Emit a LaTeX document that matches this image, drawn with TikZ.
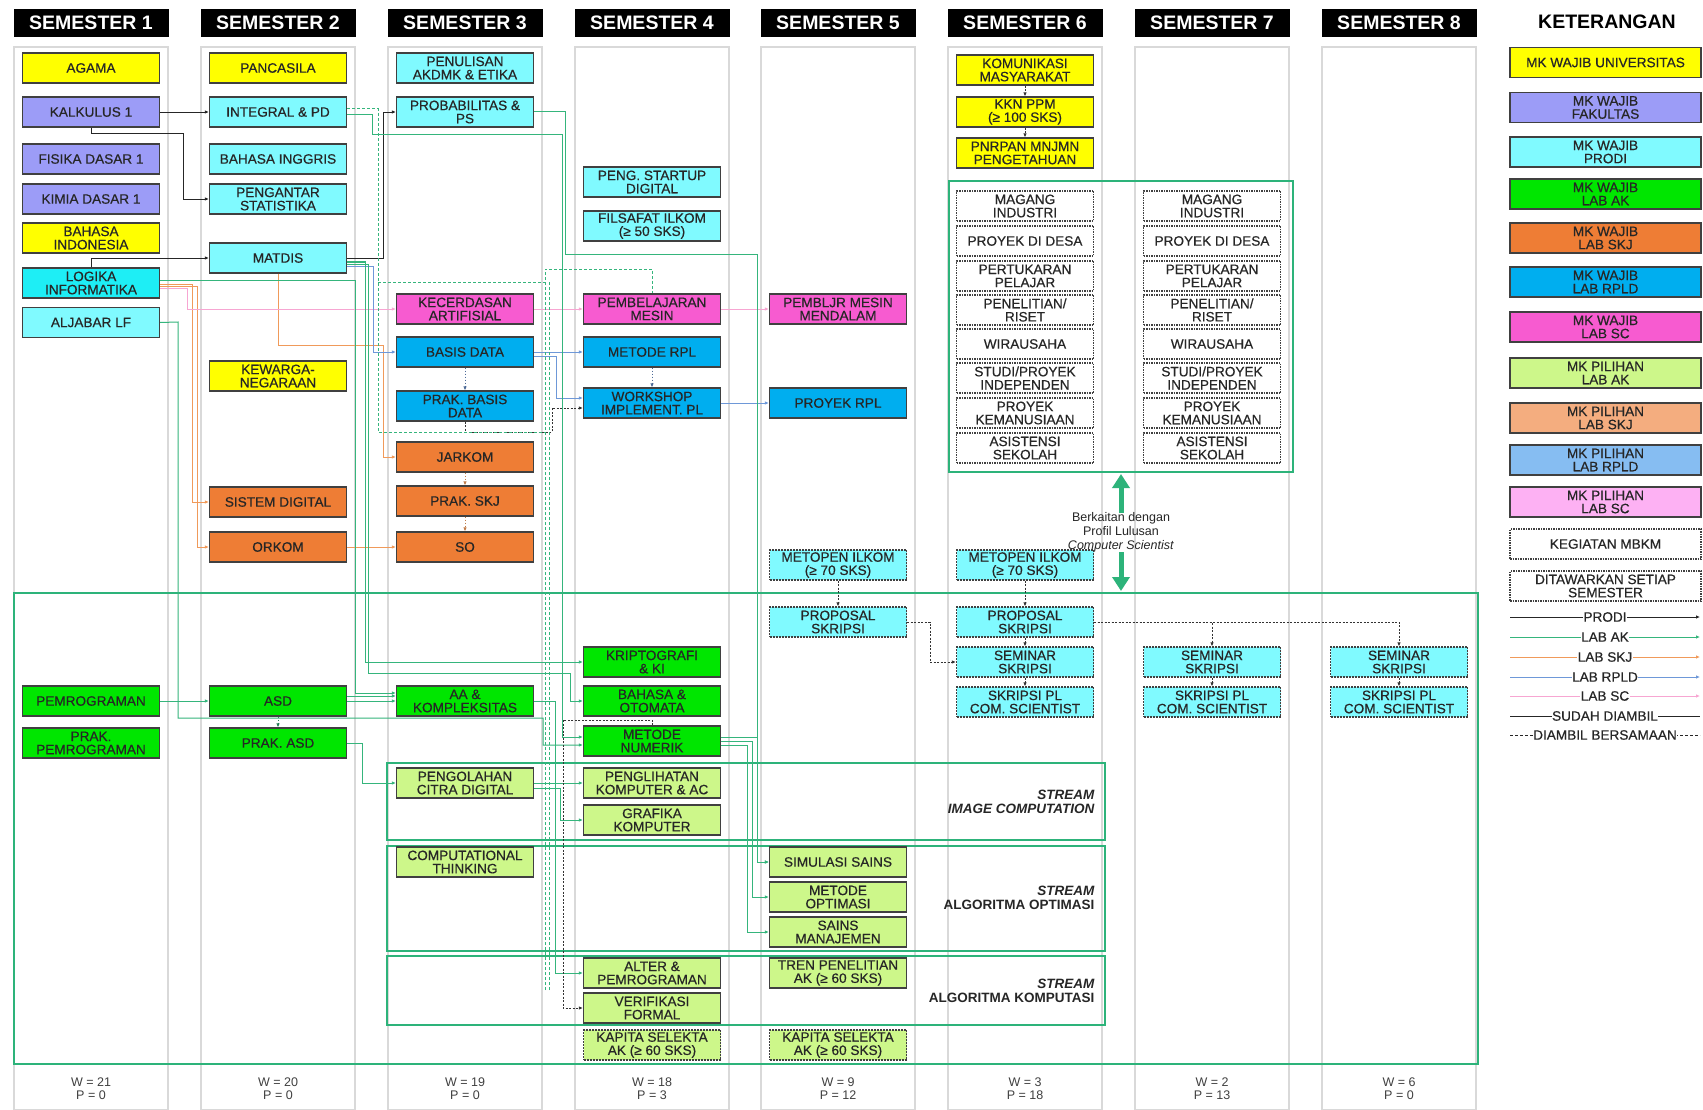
\documentclass[tikz,border=0pt]{standalone}
\usepackage{fontspec}
\setmainfont{Liberation Sans}
\newfontfamily\bxf[FakeBold=0.5]{Liberation Sans}
\usetikzlibrary{arrows.meta}
\definecolor{cYel}{HTML}{FFFF00}
\definecolor{cFak}{HTML}{9C9CF7}
\definecolor{cPro}{HTML}{80FAFF}
\definecolor{cLog}{HTML}{1EEEF5}
\definecolor{cAK}{HTML}{00E600}
\definecolor{cSKJ}{HTML}{EE7D35}
\definecolor{cRPL}{HTML}{00AEEF}
\definecolor{cSC}{HTML}{F75BD0}
\definecolor{cpAK}{HTML}{CDF78A}
\definecolor{cpSKJ}{HTML}{F4AD7F}
\definecolor{cpRPL}{HTML}{86BDF2}
\definecolor{cpSC}{HTML}{FDB1F3}
\definecolor{lAK}{HTML}{35B57C}
\definecolor{lSKJ}{HTML}{F09A5A}
\definecolor{lRPL}{HTML}{6E98D8}
\definecolor{lSC}{HTML}{F7A6D2}
\definecolor{frameG}{HTML}{2DB37A}
\definecolor{colG}{HTML}{D9D9D9}
\begin{document}
\begin{tikzpicture}[x=1pt,y=-1pt,
  box/.style={draw=black!75, line width=1.2pt, minimum width=137pt, minimum height=30pt, inner sep=0pt, align=center, font=\bxf\fontsize{13.6}{13.2}\selectfont, text=black!85},
  yel/.style={box, fill=cYel},
  fak/.style={box, fill=cFak},
  pro/.style={box, fill=cPro},
  lak/.style={box, fill=cAK},
  lskj/.style={box, fill=cSKJ},
  lrpl/.style={box, fill=cRPL},
  lsc/.style={box, fill=cSC},
  pak/.style={box, fill=cpAK},
  pskj/.style={box, fill=cpSKJ},
  prpl/.style={box, fill=cpRPL},
  psc/.style={box, fill=cpSC},
  mbkm/.style={box, fill=white, dash pattern=on 1.5pt off 1pt},
  dpro/.style={box, fill=cPro, dash pattern=on 2pt off 1pt},
  dpak/.style={box, fill=cpAK, dash pattern=on 2pt off 1pt},
  lgd/.style={box, minimum width=191pt},
  hdr/.style={fill=black, text=white, minimum width=155pt, minimum height=28pt, inner sep=0pt, font=\fontsize{19.5}{19.5}\selectfont\bfseries},
  colbg/.style={draw=colG, line width=1.6pt, fill=white},
  tip/.style={-{Latex[length=4pt,width=3.5pt]}},
  pr/.style={draw=black!85, line width=0.9pt, tip},
  ak/.style={draw=lAK, line width=1pt, tip},
  skj/.style={draw=lSKJ, line width=1pt, tip},
  rp/.style={draw=lRPL, line width=1pt, tip},
  sc/.style={draw=lSC, line width=1pt, tip},
  bers/.style={draw=black!80, line width=0.9pt, dash pattern=on 2pt off 1.5pt, tip},
  skjd/.style={draw=lSKJ!80!black, line width=0.9pt, dash pattern=on 1.5pt off 1.5pt, tip},
  rpd/.style={draw=lRPL!70!black, line width=0.9pt, dash pattern=on 1.5pt off 1.5pt, tip},
  akd/.style={draw=lAK!70!black, line width=0.9pt, dash pattern=on 1.5pt off 1.5pt, tip},
  akg/.style={draw=lAK, line width=1pt, dash pattern=on 3pt off 2pt},
  frm/.style={draw=frameG, line width=2.4pt},
  sfrm/.style={draw=frameG, line width=2pt},
  lglbl/.style={fill=white, inner sep=0.5pt, font=\bxf\fontsize{13.6}{13}\selectfont, text=black!85},
  wp/.style={align=center, font=\fontsize{12.5}{13}\selectfont, text=black!75},
  strm/.style={anchor=east, align=right, font=\fontsize{13.5}{14}\selectfont\bfseries, text=black!85}
]
\useasboundingbox (0,0) rectangle (1703,1110);
\fill[white] (0,0) rectangle (1703,1110);
% columns
\foreach \c in {91,278,465,652,838,1025,1212,1399} {
  \draw[colbg] (\c-77,47) rectangle (\c+77,1110);
}
\foreach \c/\n in {91/1,278/2,465/3,652/4,838/5,1025/6,1212/7,1399/8} {
  \node[hdr] (h\n) at (\c,23) {SEMESTER \n};
}
\node[font=\fontsize{19.5}{19.5}\selectfont\bfseries] (ket) at (1607,22) {KETERANGAN};

% frames
\draw[frm] (949,181) rectangle (1293,472);
\draw[frm] (14,593) rectangle (1478,1064);
\draw[sfrm] (387,763) rectangle (1105,840);
\draw[sfrm] (387,846) rectangle (1105,951);
\draw[sfrm] (387,956) rectangle (1105,1025);

% semester 1
\node[yel] (agama) at (91,68) {AGAMA};
\node[fak] (k1) at (91,112) {KALKULUS 1};
\node[fak] (fis) at (91,159) {FISIKA DASAR 1};
\node[fak] (kim) at (91,199) {KIMIA DASAR 1};
\node[yel] (bind) at (91,238) {BAHASA\\INDONESIA};
\node[box, fill=cLog] (logika) at (91,283) {LOGIKA\\INFORMATIKA};
\node[pro] (alj) at (91,322.5) {ALJABAR LF};
\node[lak] (pemro) at (91,701) {PEMROGRAMAN};
\node[lak] (prakpemro) at (91,743) {PRAK.\\PEMROGRAMAN};
% semester 2
\node[yel] (panc) at (278,68) {PANCASILA};
\node[pro] (int) at (278,112) {INTEGRAL \& PD};
\node[pro] (bing) at (278,159) {BAHASA INGGRIS};
\node[pro] (stat) at (278,199) {PENGANTAR\\STATISTIKA};
\node[pro] (matdis) at (278,258) {MATDIS};
\node[yel] (kew) at (278,376) {KEWARGA-\\NEGARAAN};
\node[lskj] (sisdig) at (278,502) {SISTEM DIGITAL};
\node[lskj] (orkom) at (278,547) {ORKOM};
\node[lak] (asd) at (278,701) {ASD};
\node[lak] (prakasd) at (278,743) {PRAK. ASD};
% semester 3
\node[pro] (penulisan) at (465,68) {PENULISAN\\AKDMK \& ETIKA};
\node[pro] (prob) at (465,112) {PROBABILITAS \&\\PS};
\node[lsc] (ka) at (465,309) {KECERDASAN\\ARTIFISIAL};
\node[lrpl] (bd) at (465,352) {BASIS DATA};
\node[lrpl] (pbd) at (465,406) {PRAK. BASIS\\DATA};
\node[lskj] (jarkom) at (465,457) {JARKOM};
\node[lskj] (prakskj) at (465,501) {PRAK. SKJ};
\node[lskj] (so) at (465,547) {SO};
\node[lak] (aak) at (465,701) {AA \&\\KOMPLEKSITAS};
\node[pak] (pcd) at (465,783) {PENGOLAHAN\\CITRA DIGITAL};
\node[pak] (ct) at (465,862) {COMPUTATIONAL\\THINKING};
% semester 4
\node[pro] (startup) at (652,182) {PENG. STARTUP\\DIGITAL};
\node[pro] (filsafat) at (652,226) {FILSAFAT ILKOM\\(≥ 50 SKS)};
\node[lsc] (pm) at (652,309) {PEMBELAJARAN\\MESIN};
\node[lrpl] (mrpl) at (652,352) {METODE RPL};
\node[lrpl] (ws) at (652,403) {WORKSHOP\\IMPLEMENT. PL};
\node[lak] (kripto) at (652,662) {KRIPTOGRAFI\\\& KI};
\node[lak] (bo) at (652,701) {BAHASA \&\\OTOMATA};
\node[lak] (mnum) at (652,741) {METODE\\NUMERIK};
\node[pak] (pk) at (652,783) {PENGLIHATAN\\KOMPUTER \& AC};
\node[pak] (graf) at (652,820) {GRAFIKA\\KOMPUTER};
\node[pak] (alter) at (652,973) {ALTER \&\\PEMROGRAMAN};
\node[pak] (verif) at (652,1008) {VERIFIKASI\\FORMAL};
\node[dpak] (kap4) at (652,1045) {KAPITA SELEKTA\\AK (≥ 60 SKS)};
% semester 5
\node[lsc] (pmm) at (838,309) {PEMBLJR MESIN\\MENDALAM};
\node[lrpl] (prpl) at (838,403) {PROYEK RPL};
\node[dpro] (metopen5) at (838,565) {METOPEN ILKOM\\(≥ 70 SKS)};
\node[dpro] (prop5) at (838,622) {PROPOSAL\\SKRIPSI};
\node[pak] (sim) at (838,862) {SIMULASI SAINS};
\node[pak] (opt) at (838,897) {METODE\\OPTIMASI};
\node[pak] (man) at (838,932) {SAINS\\MANAJEMEN};
\node[pak] (tren) at (838,973) {TREN PENELITIAN\\AK (≥ 60 SKS)};
\node[dpak] (kap5) at (838,1045) {KAPITA SELEKTA\\AK (≥ 60 SKS)};
% semester 6
\node[yel] (kom) at (1025,70) {KOMUNIKASI\\MASYARAKAT};
\node[yel] (kkn) at (1025,112) {KKN PPM\\(≥ 100 SKS)};
\node[yel] (pnr) at (1025,153) {PNRPAN MNJMN\\PENGETAHUAN};
\foreach \c/\s in {1025/a,1212/b} {
  \node[mbkm] (mag\s) at (\c,206) {MAGANG\\INDUSTRI};
  \node[mbkm] (desa\s) at (\c,241) {PROYEK DI DESA};
  \node[mbkm] (tukar\s) at (\c,276) {PERTUKARAN\\PELAJAR};
  \node[mbkm] (riset\s) at (\c,310) {PENELITIAN/\\RISET};
  \node[mbkm] (wira\s) at (\c,344) {WIRAUSAHA};
  \node[mbkm] (studi\s) at (\c,378) {STUDI/PROYEK\\INDEPENDEN};
  \node[mbkm] (kemanu\s) at (\c,413) {PROYEK\\KEMANUSIAAN};
  \node[mbkm] (asist\s) at (\c,448) {ASISTENSI\\SEKOLAH};
}
\node[dpro] (metopen6) at (1025,565) {METOPEN ILKOM\\(≥ 70 SKS)};
\node[dpro] (prop6) at (1025,622) {PROPOSAL\\SKRIPSI};
\node[dpro] (sem6) at (1025,662) {SEMINAR\\SKRIPSI};
\node[dpro] (skr6) at (1025,702) {SKRIPSI PL\\COM. SCIENTIST};
% semester 7, 8
\node[dpro] (sem7) at (1212,662) {SEMINAR\\SKRIPSI};
\node[dpro] (skr7) at (1212,702) {SKRIPSI PL\\COM. SCIENTIST};
\node[dpro] (sem8) at (1399,662) {SEMINAR\\SKRIPSI};
\node[dpro] (skr8) at (1399,702) {SKRIPSI PL\\COM. SCIENTIST};

% stream labels
\node[strm] (s1) at (1098,802) {\itshape STREAM\\\itshape IMAGE COMPUTATION};
\node[strm] (s2) at (1098,898) {\itshape STREAM\\ALGORITMA OPTIMASI};
\node[strm] (s3) at (1098,991) {\itshape STREAM\\ALGORITMA KOMPUTASI};

% profile arrow
\coordinate (pa1) at (1121,513);
\coordinate (pa2) at (1121,474);
\coordinate (pa3) at (1121,552);
\coordinate (pa4) at (1121,591);
\draw[draw=frameG, line width=5pt, -{Triangle[width=17pt,length=14pt]}] (pa1) -- (pa2);
\draw[draw=frameG, line width=5pt, -{Triangle[width=17pt,length=14pt]}] (pa3) -- (pa4);
\node[align=center, font=\fontsize{12.5}{14}\selectfont, text=black!85] (prof) at (1121,532) {Berkaitan dengan\\Profil Lulusan\\\textit{Computer Scientist}};

% W / P
\node[wp] (wp1) at (91,1089) {W = 21\\P = 0};
\node[wp] (wp2) at (278,1089) {W = 20\\P = 0};
\node[wp] (wp3) at (465,1089) {W = 19\\P = 0};
\node[wp] (wp4) at (652,1089) {W = 18\\P = 3};
\node[wp] (wp5) at (838,1089) {W = 9\\P = 12};
\node[wp] (wp6) at (1025,1089) {W = 3\\P = 18};
\node[wp] (wp7) at (1212,1089) {W = 2\\P = 13};
\node[wp] (wp8) at (1399,1089) {W = 6\\P = 0};

% legend
\node[lgd, fill=cYel] (g1) at (1605.5,62.5) {MK WAJIB UNIVERSITAS};
\node[lgd, fill=cFak] (g2) at (1605.5,107.5) {MK WAJIB\\FAKULTAS};
\node[lgd, fill=cPro] (g3) at (1605.5,152) {MK WAJIB\\PRODI};
\node[lgd, fill=cAK] (g4) at (1605.5,194) {MK WAJIB\\LAB AK};
\node[lgd, fill=cSKJ] (g5) at (1605.5,238) {MK WAJIB\\LAB SKJ};
\node[lgd, fill=cRPL] (g6) at (1605.5,282) {MK WAJIB\\LAB RPLD};
\node[lgd, fill=cSC] (g7) at (1605.5,327) {MK WAJIB\\LAB SC};
\node[lgd, fill=cpAK] (g8) at (1605.5,373) {MK PILIHAN\\LAB AK};
\node[lgd, fill=cpSKJ] (g9) at (1605.5,418) {MK PILIHAN\\LAB SKJ};
\node[lgd, fill=cpRPL] (g10) at (1605.5,460) {MK PILIHAN\\LAB RPLD};
\node[lgd, fill=cpSC] (g11) at (1605.5,502) {MK PILIHAN\\LAB SC};
\node[lgd, fill=white, dash pattern=on 1.5pt off 1pt] (g12) at (1605.5,544) {KEGIATAN MBKM};
\node[lgd, fill=white, dash pattern=on 1.5pt off 1pt] (g13) at (1605.5,586) {DITAWARKAN SETIAP\\SEMESTER};
\coordinate (la1) at (1510,617); \coordinate (lb1) at (1700,617);
\coordinate (la2) at (1510,637); \coordinate (lb2) at (1700,637);
\coordinate (la3) at (1510,657); \coordinate (lb3) at (1700,657);
\coordinate (la4) at (1510,677); \coordinate (lb4) at (1700,677);
\coordinate (la5) at (1510,696); \coordinate (lb5) at (1700,696);
\coordinate (la6) at (1510,716); \coordinate (lb6) at (1700,716);
\coordinate (la7) at (1510,735); \coordinate (lb7) at (1700,735);
\draw[pr] (la1) -- (lb1) node[lglbl, midway] (t1) {PRODI};
\draw[ak] (la2) -- (lb2) node[lglbl, midway] (t2) {LAB AK};
\draw[skj] (la3) -- (lb3) node[lglbl, midway] (t3) {LAB SKJ};
\draw[rp] (la4) -- (lb4) node[lglbl, midway] (t4) {LAB RPLD};
\draw[sc] (la5) -- (lb5) node[lglbl, midway] (t5) {LAB SC};
\draw[draw=black!85, line width=0.9pt] (la6) -- (lb6) node[lglbl, midway] (t6) {SUDAH DIAMBIL};
\draw[draw=black!85, line width=0.9pt, dash pattern=on 3pt off 2pt] (la7) -- (lb7) node[lglbl, midway] (t7) {DIAMBIL BERSAMAAN};

% ===== connectors =====
% black (prodi)
\draw[pr] (k1) -- (int);
\draw[pr] (k1.south) |- (183,133) |- (stat.west);
\draw[pr] (logika.north) |- (matdis.west);
\draw[pr] (matdis.east) -- (383,258) |- (prob.west);
% orange (skj)
\draw[skj] ([yshift=-1pt]logika.east) -- (192,284) |- (sisdig.west);
\draw[skj] ([yshift=-3pt]logika.east) -- (197,286) |- (orkom.west);
\draw[skj] (matdis.south) |- (383,345) |- (jarkom.west);
\draw[skj] (orkom) -- (so);
\draw[skjd] (jarkom) -- (prakskj);
\draw[skjd] (prakskj) -- (so);
% pink (sc)
\draw[sc] ([yshift=-5pt]logika.east) -- (187,288) |- (ka.west);
\draw[sc] (ka) -- (pm);
\draw[sc] (pm) -- (pmm);
% blue (rpld)
\draw[rp] ([yshift=-8pt]matdis.east) -- (373,266) |- (bd.west);
\draw[rp] (bd) -- (mrpl);
\draw[rpd] (bd) -- (pbd);
\draw[rpd] (mrpl) -- (ws);
\draw[rp] (ws) -- (prpl);
\draw[rp] ([yshift=-4pt]bd.east) -- (556,356) |- ([yshift=5pt]ws.west);
\draw[bers] (pbd.south) |- (552,432) |- ([yshift=-5pt]ws.west);
% green dashed groups
\draw[akg] ([yshift=3pt]int.east) -- (378,109) -- (378,432) -- (545,432);
\draw[akg] (378,282) -- (545,282);
\draw[akg] (545,990) -- (545,269) -| (pm.north);
\draw[akg] (549,990) -- (549,282);
% green (ak)
\draw[ak] (pemro) -- (asd);
\draw[akd] (asd) -- (prakasd);
\draw[ak] ([yshift=5pt]asd.east) -- ([yshift=5pt]aak.west);
\draw[ak] (asd) -- (aak);
\draw[ak] (alj.east) -- (178,322) |- (543,718) |- ([yshift=-4pt]mnum.west);
\draw[ak] (prakasd.east) -- (362,743) |- (pcd.west);
\draw[ak] (pcd) -- (pk);
\draw[ak] ([yshift=-5pt]pcd.east) -- (560,788) |- (graf.west);
\draw[ak] ([yshift=4pt]mnum.east) -- (757,737) |- (sim.west);
\draw[ak] (mnum.east) -- (752,741) |- (opt.west);
\draw[ak] ([yshift=-4pt]mnum.east) -- (747,745) |- (man.west);
\draw[ak] (prob.east) -- (565,112) |- (757,255) |- (sim.west);
\draw[ak] ([yshift=-3pt]int.east) -- (372,115) |- (562,135) |- ([yshift=4pt]mnum.west);
\draw[ak] ([yshift=-4pt]matdis.east) -- (365,262) |- (kripto.west);
\draw[ak] ([yshift=-6pt]matdis.east) -- (368,264) |- (570,673) |- (bo.west);
\draw[ak] ([yshift=3pt]logika.east) -- (355,280) |- ([yshift=8pt]aak.west);
\draw[ak] (aak.east) -- (555,701) |- (alter.west);
\draw[bers] (mnum.north) |- (563,720) |- (verif.west);
% bersamaan (dashed black)
\draw[bers] (kom) -- (kkn);
\draw[bers] (kkn) -- (pnr);
\draw[bers] (metopen5) -- (prop5);
\draw[bers] (metopen6) -- (prop6);
\draw[bers] (prop6) -- (sem6);
\draw[bers] (sem6) -- (skr6);
\draw[bers] (sem7) -- (skr7);
\draw[bers] (sem8) -- (skr8);
\draw[bers] (prop5.east) -- (930,622) |- (sem6.west);
\draw[bers] (prop6.east) -| (sem8.north);
\draw[bers] (prop6.east) -| (sem7.north);
\end{tikzpicture}
\end{document}
